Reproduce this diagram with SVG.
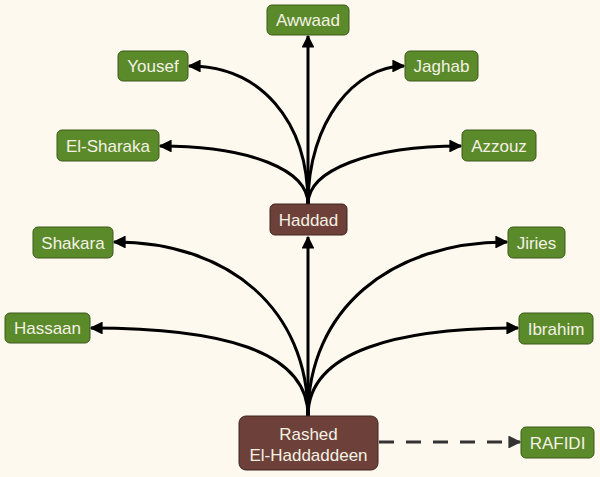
<svg xmlns="http://www.w3.org/2000/svg" width="600" height="477" viewBox="0 0 600 477">
<defs>
<style>
.g rect{fill:#5b8a2b;stroke:#3a5a1a;stroke-width:1}
.b rect{fill:#6d4139;stroke:#3e2420;stroke-width:1}
text{font-family:"Liberation Sans",Arial,sans-serif;font-size:17px;fill:#f4f1e4;text-anchor:middle}
.e{fill:none;stroke:#000;stroke-width:3}
.d{fill:none;stroke:#333;stroke-width:3;stroke-dasharray:15 12}
</style>
<marker id="a" viewBox="0 0 10 10" refX="9" refY="5" markerWidth="4.3" markerHeight="4.3" orient="auto" markerUnits="strokeWidth">
<path d="M0,0 L10,5 L0,10 z" fill="#000"/>
</marker>
<marker id="ad" viewBox="0 0 10 10" refX="9" refY="5" markerWidth="4.3" markerHeight="4.3" orient="auto" markerUnits="strokeWidth">
<path d="M0,0 L10,5 L0,10 z" fill="#333"/>
</marker>
</defs>
<rect width="600" height="477" fill="#fef9ee"/>
<g id="edges">
<path class="e" marker-end="url(#a)" d="M308,416 L308,237"/>
<path class="e" marker-end="url(#a)" d="M308,416 C308,350 220,328 91,328"/>
<path class="e" marker-end="url(#a)" d="M308,416 C308,310 230,242 114,242"/>
<path class="e" marker-end="url(#a)" d="M308,416 C308,350 400,328 518,328"/>
<path class="e" marker-end="url(#a)" d="M308,416 C308,310 390,242 507,242"/>
<path class="e" marker-end="url(#a)" d="M308,204 L308,36"/>
<path class="e" marker-end="url(#a)" d="M308,204 C308,170 250,146 160,146"/>
<path class="e" marker-end="url(#a)" d="M308,204 C308,170 370,146 461,146"/>
<path class="e" marker-end="url(#a)" d="M308,204 C308,120 260,66 189,66"/>
<path class="e" marker-end="url(#a)" d="M308,204 C308,120 356,66 404,66"/>
<path class="d" marker-end="url(#ad)" d="M379,442 L520,442"/>
</g>
<g id="rashed" class="b"><rect x="239" y="416" width="139" height="54" rx="7"/><text x="308.5" y="440">Rashed</text><text x="308.5" y="461">El-Haddaddeen</text></g>
<g id="haddad" class="b"><rect x="270" y="204" width="77" height="31" rx="5"/><text x="308.5" y="226">Haddad</text></g>
<g id="awwaad" class="g"><rect x="267" y="5" width="82" height="30" rx="5"/><text x="308" y="26">Awwaad</text></g>
<g id="yousef" class="g"><rect x="118" y="51" width="70" height="30" rx="5"/><text x="153" y="72">Yousef</text></g>
<g id="jaghab" class="g"><rect x="405" y="51" width="73" height="30" rx="5"/><text x="441.5" y="72">Jaghab</text></g>
<g id="elsharaka" class="g"><rect x="57" y="130" width="102" height="31" rx="5"/><text x="108" y="152">El-Sharaka</text></g>
<g id="azzouz" class="g"><rect x="462" y="130" width="74" height="31" rx="5"/><text x="499" y="152">Azzouz</text></g>
<g id="shakara" class="g"><rect x="33" y="227" width="80" height="31" rx="5"/><text x="73" y="249">Shakara</text></g>
<g id="jiries" class="g"><rect x="508" y="227" width="57" height="31" rx="5"/><text x="536.5" y="249">Jiries</text></g>
<g id="hassaan" class="g"><rect x="5" y="313" width="85" height="30" rx="5"/><text x="47.5" y="334">Hassaan</text></g>
<g id="ibrahim" class="g"><rect x="519" y="313" width="74" height="31" rx="5"/><text x="556" y="335">Ibrahim</text></g>
<g id="rafidi" class="g"><rect x="521" y="427" width="73" height="31" rx="5"/><text x="557.5" y="449">RAFIDI</text></g>
</svg>
